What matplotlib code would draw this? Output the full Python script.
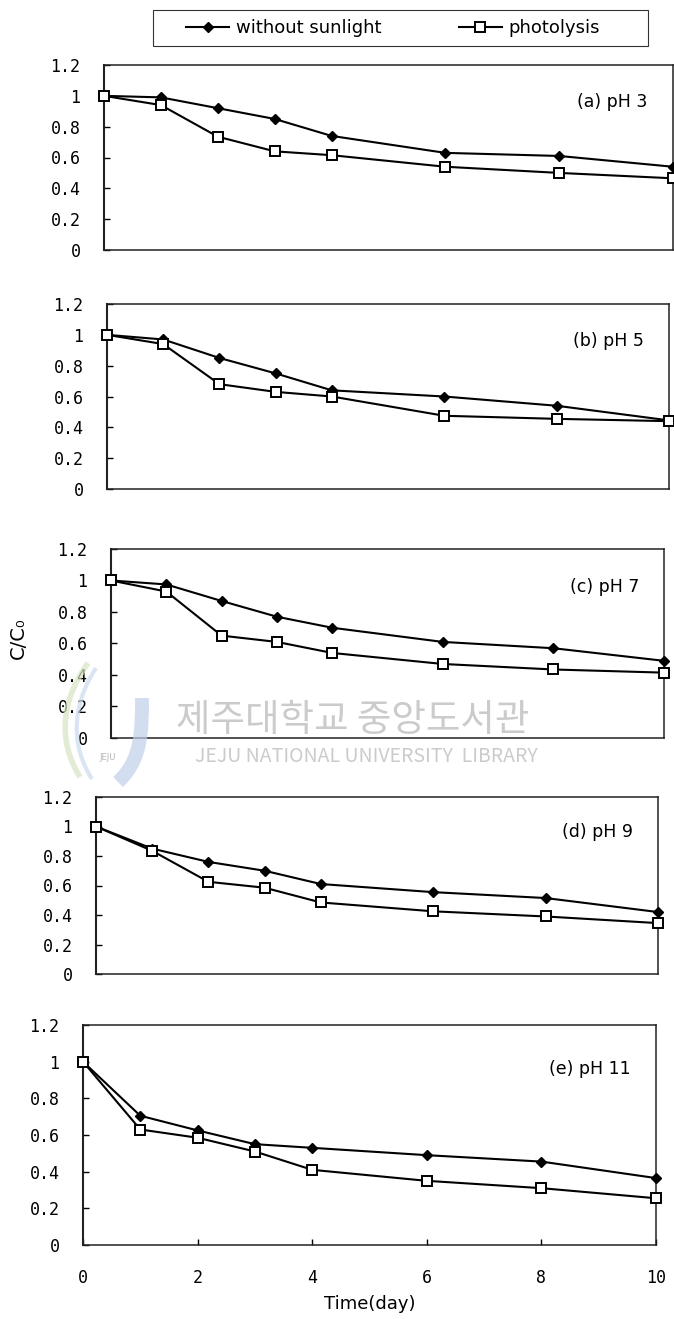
import matplotlib
matplotlib.use("Agg")
import matplotlib.pyplot as plt
from matplotlib.lines import Line2D
from matplotlib.patches import Rectangle, PathPatch
from matplotlib.path import Path

# sampling times (day)
days = [0, 1, 2, 3, 4, 6, 8, 10]

# C/C0 without sunlight
dark_ph3 = [1.0, 0.99, 0.92, 0.85, 0.74, 0.63, 0.61, 0.54]
dark_ph5 = [1.0, 0.97, 0.85, 0.75, 0.64, 0.60, 0.54, 0.445]
dark_ph7 = [1.0, 0.975, 0.87, 0.77, 0.70, 0.61, 0.57, 0.49]
dark_ph9 = [1.0, 0.85, 0.76, 0.70, 0.61, 0.555, 0.515, 0.42]
dark_ph11 = [1.0, 0.705, 0.625, 0.55, 0.53, 0.49, 0.455, 0.365]

# C/C0 under photolysis
photo_ph3 = [1.0, 0.94, 0.735, 0.64, 0.615, 0.54, 0.50, 0.465]
photo_ph5 = [1.0, 0.94, 0.68, 0.63, 0.60, 0.475, 0.455, 0.44]
photo_ph7 = [1.0, 0.93, 0.65, 0.61, 0.54, 0.47, 0.435, 0.415]
photo_ph9 = [1.0, 0.835, 0.625, 0.585, 0.485, 0.425, 0.39, 0.345]
photo_ph11 = [1.0, 0.63, 0.585, 0.51, 0.41, 0.35, 0.31, 0.255]

panel_labels = ["(a) pH 3", "(b) pH 5", "(c) pH 7", "(d) pH 9", "(e) pH 11"]
series_names = ["without sunlight", "photolysis"]

yticks = [0, 0.2, 0.4, 0.6, 0.8, 1.0, 1.2]
ytick_labels = ["0", "0.2", "0.4", "0.6", "0.8", "1", "1.2"]
xticks = [0, 2, 4, 6, 8, 10]
xtick_labels = ["0", "2", "4", "6", "8", "10"]

dark = [dark_ph3, dark_ph5, dark_ph7, dark_ph9, dark_ph11]
photo = [photo_ph3, photo_ph5, photo_ph7, photo_ph9, photo_ph11]

W, H = 674, 1319
# panel frames in pixels: left, top, right, bottom
boxes = [(104, 65, 673, 250),
         (107, 304, 669, 489),
         (111, 549, 664, 738),
         (96, 797, 658, 974),
         (83, 1025, 656, 1245)]


def px_rect(l, t, r, b):
    return [l / W, 1 - b / H, (r - l) / W, (b - t) / H]


plt.rcParams["font.family"] = ["DejaVu Sans"]
tick_font = "DejaVu Sans Mono"
fig = plt.figure(figsize=(W / 100, H / 100), dpi=100)

dark_style = dict(color="black", lw=1.5, marker="D", ms=5, mfc="black", mec="black")
photo_style = dict(color="black", lw=1.5, marker="s", ms=6.5, mfc="white", mec="black", mew=1.4)

for i, box in enumerate(boxes):
    ax = fig.add_axes(px_rect(*box))
    ax.set_facecolor("none")
    ax.plot(days, dark[i], clip_on=False, zorder=3, **dark_style)
    ax.plot(days, photo[i], clip_on=False, zorder=4, **photo_style)
    ax.set_xlim(0, 10)
    ax.set_ylim(0, 1.2)
    ax.set_yticks(yticks)
    ax.set_yticklabels(ytick_labels, family=tick_font)
    ax.tick_params(axis="y", direction="in", length=4, width=1, pad=17, labelsize=12)
    if i == len(boxes) - 1:
        ax.set_xticks(xticks)
        ax.set_xticklabels(xtick_labels, family=tick_font)
        ax.tick_params(axis="x", direction="in", length=4, width=1, pad=17, labelsize=12)
        ax.set_xlabel("Time(day)", fontsize=13, labelpad=6)
    else:
        ax.set_xticks([])
    for sp in ax.spines.values():
        sp.set_linewidth(1.1)
        sp.set_color("#222222")
    ax.spines["left"].set_linewidth(1.5)
    ax.text(0.955, 0.80, panel_labels[i], transform=ax.transAxes,
            ha="right", va="center", fontsize=12.5)

fig.text(18 / W, 1 - 638 / H, "C/C\u2080", rotation=90, ha="center", va="center", fontsize=14)

# legend on top with its own box
handles = [Line2D([], [], **dark_style), Line2D([], [], **photo_style)]
fig.legend(handles, series_names, loc="center left", bbox_to_anchor=(186 / W, 1 - 28 / H),
           ncol=2, frameon=False, handlelength=2.4, handletextpad=0.35,
           columnspacing=4.3, fontsize=13, borderpad=0, borderaxespad=0, numpoints=1)
fig.add_artist(Rectangle((153 / W, 1 - 46 / H), 495 / W, 36 / H, transform=fig.transFigure,
                         fill=False, ec="#333333", lw=0.8))

# library stamp across the middle
wm = fig.add_axes([0, 0, 1, 1], zorder=5)
wm.set_xlim(0, W)
wm.set_ylim(H, 0)
wm.set_facecolor("none")
wm.axis("off")
green = Path([(88, 663), (58, 705), (60, 745), (80, 777)],
             [Path.MOVETO, Path.CURVE4, Path.CURVE4, Path.CURVE4])
blue = Path([(96, 668), (70, 708), (72, 748), (92, 779)],
            [Path.MOVETO, Path.CURVE4, Path.CURVE4, Path.CURVE4])
hook = Path([(142, 698), (142, 730), (142, 760), (118, 782)],
            [Path.MOVETO, Path.CURVE4, Path.CURVE4, Path.CURVE4])
wm.add_patch(PathPatch(green, fill=False, ec="#d6e4c2", lw=4, alpha=0.7))
wm.add_patch(PathPatch(blue, fill=False, ec="#cbdaef", lw=3, alpha=0.7))
wm.add_patch(PathPatch(hook, fill=False, ec="#bfd0ea", lw=10, alpha=0.7))
wm.text(108, 757, "JEJU", fontsize=6, color="#b5b5b5", ha="center", va="center")
wm.text(353, 721, "제주대학교 중앙도서관", family=["Noto Sans CJK KR"], fontsize=27,
        color="#8c8c8c", alpha=0.45, ha="center", va="center")
wm.text(366, 757, "JEJU NATIONAL UNIVERSITY  LIBRARY", family=["Noto Sans CJK KR"], fontsize=14,
        color="#8c8c8c", alpha=0.45, ha="center", va="center")

fig.savefig("out.png", dpi=100)
